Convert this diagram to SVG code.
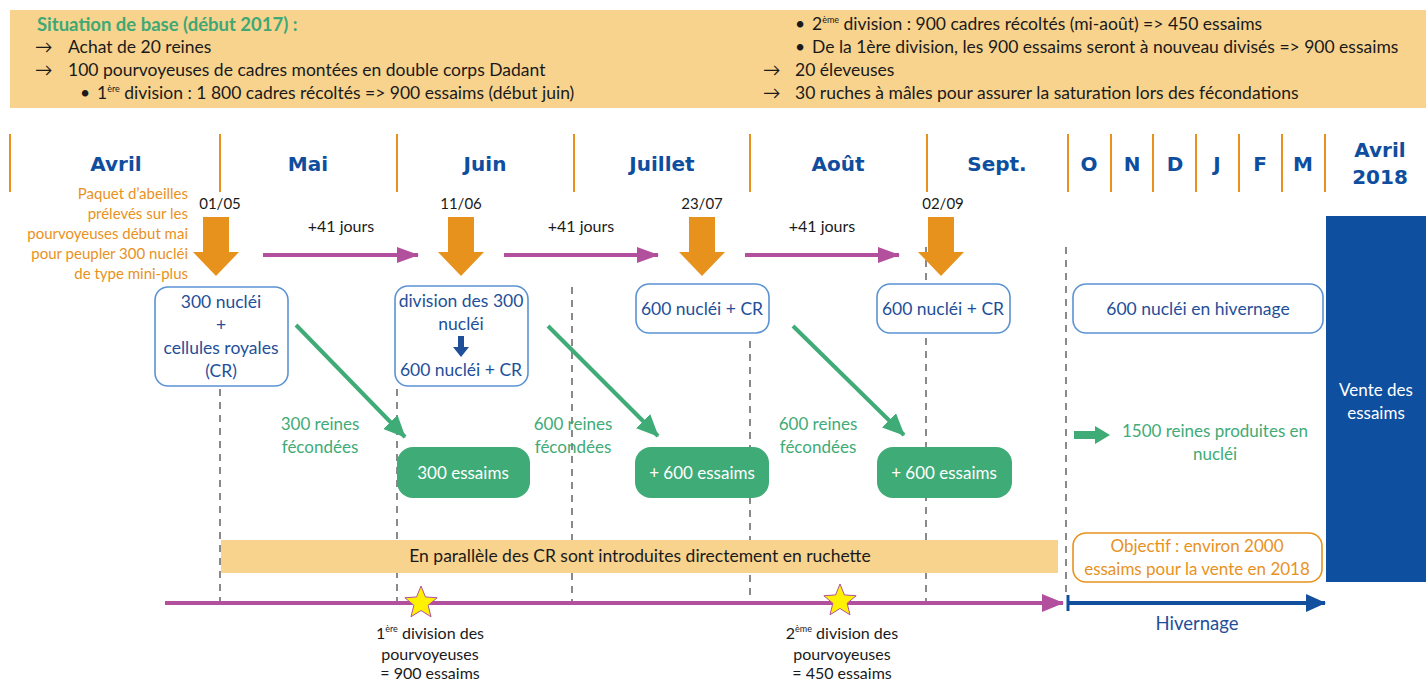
<svg xmlns="http://www.w3.org/2000/svg" width="1426" height="684" viewBox="0 0 1426 684">
<defs>
<style>
text{font-family:Lato,"Open Sans","DejaVu Sans",sans-serif;}
.hd{font-size:17.5px;fill:#1a1a1a;}
.hdg{font-size:18.5px;fill:#3fa874;font-weight:bold;}
.mo{font-family:"DejaVu Sans",sans-serif;font-weight:bold;font-size:20px;fill:#0f4e9e;text-anchor:middle;}
.or{font-size:15px;fill:#e8921e;text-anchor:end;}
.dt{font-size:15px;fill:#1a1a1a;text-anchor:middle;}
.pl{font-size:16px;fill:#1a1a1a;text-anchor:middle;}
.bx{fill:#fff;stroke:#5b93d3;stroke-width:1.6;}
.bt{font-size:17.5px;fill:#1f4f99;text-anchor:middle;}
.gb{fill:#3fab76;}
.gbt{font-size:17px;fill:#fff;text-anchor:middle;}
.gt{font-size:17px;fill:#3fab76;text-anchor:middle;}
.dash{stroke:#8a8a8a;stroke-width:2;stroke-dasharray:7,6;fill:none;}
.mline{stroke:#e8921e;stroke-width:2;}
.oa{fill:#e8921e;}
.pa{stroke:#b3509d;stroke-width:4;fill:none;}
.ga{stroke:#3fab76;stroke-width:4;fill:none;}
.bl{font-size:16px;fill:#1a1a1a;text-anchor:middle;}
.sup{font-size:9px;}
</style>
<marker id="mp" markerUnits="userSpaceOnUse" markerWidth="22" markerHeight="16" refX="21" refY="8" orient="auto"><path d="M0,0 L22,8 L0,16 Z" fill="#b3509d"/></marker>
<marker id="mg" markerUnits="userSpaceOnUse" markerWidth="22" markerHeight="20" refX="21" refY="10" orient="auto"><path d="M0,0 L22,10 L0,20 Z" fill="#3fab76"/></marker>
<marker id="mp2" markerUnits="userSpaceOnUse" markerWidth="22" markerHeight="18" refX="21" refY="9" orient="auto"><path d="M0,0 L22,9 L0,18 Z" fill="#b3509d"/></marker>
<marker id="mb" markerUnits="userSpaceOnUse" markerWidth="20" markerHeight="18" refX="19" refY="9" orient="auto"><path d="M0,0 L20,9 L0,18 Z" fill="#124f9e"/></marker>
<path id="star" d="M0,-17 L4.41,-6.07 L16.17,-5.25 L7.13,2.32 L9.99,13.75 L0,7.5 L-9.99,13.75 L-7.13,2.32 L-16.17,-5.25 L-4.41,-6.07 Z" fill="#fff200" stroke="#b3509d" stroke-width="1"/>
<path id="oarrow" d="M-13,0 L13,0 L13,35 L23,35 L0,59 L-23,35 L-13,35 Z" class="oa"/>
</defs>
<rect width="1426" height="684" fill="#fff"/>

<g id="header">
<rect x="10" y="10" width="1416" height="98" fill="#f7d38e"/>
<text x="37" y="31" class="hdg">Situation de base (début 2017) :</text>
<text x="35" y="53" class="hd">→</text><text x="68" y="53" class="hd">Achat de 20 reines</text>
<text x="35" y="76" class="hd">→</text><text x="68" y="76" class="hd">100 pourvoyeuses de cadres montées en double corps Dadant</text>
<text x="80" y="99" class="hd">•</text><text x="97" y="99" class="hd">1<tspan class="sup" dy="-7">ère</tspan><tspan dy="7"> division : 1 800 cadres récoltés =&gt; 900 essaims (début juin)</tspan></text>
<text x="795" y="30" class="hd">•</text><text x="812" y="30" class="hd">2<tspan class="sup" dy="-7">ème</tspan><tspan dy="7"> division : 900 cadres récoltés (mi-août) =&gt; 450 essaims</tspan></text>
<text x="795" y="53" class="hd">•</text><text x="812" y="53" class="hd">De la 1ère division, les 900 essaims seront à nouveau divisés =&gt; 900 essaims</text>
<text x="763" y="76" class="hd">→</text><text x="795" y="76" class="hd">20 éleveuses</text>
<text x="763" y="99" class="hd">→</text><text x="795" y="99" class="hd">30 ruches à mâles pour assurer la saturation lors des fécondations</text>
</g>

<g id="months">
<line class="mline" x1="10" y1="134" x2="10" y2="192"/>
<line class="mline" x1="220" y1="134" x2="220" y2="192"/>
<line class="mline" x1="397" y1="134" x2="397" y2="192"/>
<line class="mline" x1="574" y1="134" x2="574" y2="192"/>
<line class="mline" x1="750" y1="134" x2="750" y2="192"/>
<line class="mline" x1="927" y1="134" x2="927" y2="192"/>
<line class="mline" x1="1068" y1="134" x2="1068" y2="192"/>
<line class="mline" x1="1111" y1="134" x2="1111" y2="192"/>
<line class="mline" x1="1153" y1="134" x2="1153" y2="192"/>
<line class="mline" x1="1196" y1="134" x2="1196" y2="192"/>
<line class="mline" x1="1239" y1="134" x2="1239" y2="192"/>
<line class="mline" x1="1282" y1="134" x2="1282" y2="192"/>
<line class="mline" x1="1325" y1="134" x2="1325" y2="192"/>
<text class="mo" x="116" y="171">Avril</text>
<text class="mo" x="308" y="171">Mai</text>
<text class="mo" x="485" y="171">Juin</text>
<text class="mo" x="662" y="171">Juillet</text>
<text class="mo" x="838" y="171">Août</text>
<text class="mo" x="997" y="171">Sept.</text>
<text class="mo" x="1089" y="171">O</text>
<text class="mo" x="1132" y="171">N</text>
<text class="mo" x="1175" y="171">D</text>
<text class="mo" x="1217" y="171">J</text>
<text class="mo" x="1260" y="171">F</text>
<text class="mo" x="1303" y="171">M</text>
<text class="mo" x="1380" y="157">Avril</text>
<text class="mo" x="1380" y="184">2018</text>
</g>

<g id="intro-text">
<text class="or" x="188" y="199">Paquet d’abeilles</text>
<text class="or" x="188" y="219">prélevés sur les</text>
<text class="or" x="188" y="239">pourvoyeuses début mai</text>
<text class="or" x="188" y="259">pour peupler 300 nucléi</text>
<text class="or" x="188" y="279">de type mini-plus</text>
</g>

<g id="dates">
<text class="dt" x="220" y="209">01/05</text>
<text class="dt" x="461" y="209">11/06</text>
<text class="dt" x="702" y="209">23/07</text>
<text class="dt" x="943" y="209">02/09</text>
<text class="pl" x="341" y="232">+41 jours</text>
<text class="pl" x="581" y="232">+41 jours</text>
<text class="pl" x="822" y="232">+41 jours</text>
</g>

<g id="guides">
<line class="dash" x1="220" y1="389" x2="220" y2="603"/>
<line class="dash" x1="397" y1="389" x2="397" y2="603"/>
<line class="dash" x1="572" y1="287" x2="572" y2="603"/>
<line class="dash" x1="750" y1="341" x2="750" y2="603"/>
<line class="dash" x1="926" y1="247" x2="926" y2="603"/>
<line class="dash" x1="1066" y1="247" x2="1066" y2="595"/>
</g>

<g id="connectors">
<use href="#oarrow" x="216" y="217"/>
<use href="#oarrow" x="461" y="217"/>
<use href="#oarrow" x="702" y="217"/>
<use href="#oarrow" x="941" y="217"/>
<line class="pa" x1="263" y1="255" x2="418" y2="255" marker-end="url(#mp)"/>
<line class="pa" x1="504" y1="255" x2="658" y2="255" marker-end="url(#mp)"/>
<line class="pa" x1="745" y1="255" x2="899" y2="255" marker-end="url(#mp)"/>
<line class="ga" x1="296" y1="325" x2="405" y2="437" marker-end="url(#mg)"/>
<line class="ga" x1="548" y1="326" x2="658" y2="436" marker-end="url(#mg)"/>
<line class="ga" x1="793" y1="326" x2="904" y2="435" marker-end="url(#mg)"/>
<path d="M1074,431 L1095,431 L1095,426 L1110,435 L1095,444 L1095,439 L1074,439 Z" fill="#3fab76"/>
</g>

<g id="n-300nuclei">
<rect class="bx" x="155" y="287" width="133" height="99" rx="13"/>
<text class="bt" x="221" y="308">300 nucléi</text>
<text class="bt" x="221" y="331">+</text>
<text class="bt" x="221" y="354">cellules royales</text>
<text class="bt" x="221" y="377">(CR)</text>
</g>
<g id="n-division">
<rect class="bx" x="395" y="286" width="133" height="100" rx="13"/>
<text class="bt" x="461" y="307">division des 300</text>
<text class="bt" x="461" y="330">nucléi</text>
<path d="M458,336 L464,336 L464,347 L469,347 L461,357 L453,347 L458,347 Z" fill="#1f4f99"/>
<text class="bt" x="461" y="376">600 nucléi + CR</text>
</g>
<g id="n-600a">
<rect class="bx" x="636" y="284" width="133" height="49" rx="13"/>
<text class="bt" x="702" y="315">600 nucléi + CR</text>
</g>
<g id="n-600b">
<rect class="bx" x="877" y="284" width="133" height="49" rx="13"/>
<text class="bt" x="943" y="315">600 nucléi + CR</text>
</g>
<g id="n-hivernage">
<rect class="bx" x="1073" y="284" width="250" height="49" rx="13"/>
<text class="bt" x="1198" y="315">600 nucléi en hivernage</text>
</g>

<g id="labels-reines">
<text class="gt" x="320" y="430">300 reines</text>
<text class="gt" x="320" y="453">fécondées</text>
<text class="gt" x="573" y="430">600 reines</text>
<text class="gt" x="573" y="453">fécondées</text>
<text class="gt" x="818" y="430">600 reines</text>
<text class="gt" x="818" y="453">fécondées</text>
<text class="gt" x="1215" y="437">1500 reines produites en</text>
<text class="gt" x="1215" y="460">nucléi</text>
</g>

<g id="n-300essaims">
<rect class="gb" x="397" y="447" width="133" height="51" rx="16"/>
<text class="gbt" x="463" y="479">300 essaims</text>
</g>
<g id="n-600essaims-a">
<rect class="gb" x="635" y="447" width="134" height="51" rx="16"/>
<text class="gbt" x="702" y="479">+ 600 essaims</text>
</g>
<g id="n-600essaims-b">
<rect class="gb" x="877" y="447" width="135" height="51" rx="16"/>
<text class="gbt" x="944" y="479">+ 600 essaims</text>
</g>

<g id="n-vente">
<rect x="1326" y="216" width="100" height="366" fill="#0e4fa0"/>
<text x="1376" y="396" font-size="17" fill="#fff" text-anchor="middle">Vente des</text>
<text x="1376" y="419" font-size="17" fill="#fff" text-anchor="middle">essaims</text>
</g>

<g id="n-parallele">
<rect x="221" y="540" width="837" height="33" fill="#f7d38e"/>
<text x="640" y="562" font-size="17.5" fill="#1a1a1a" text-anchor="middle">En parallèle des CR sont introduites directement en ruchette</text>
</g>

<g id="n-objectif">
<rect x="1073" y="533" width="249" height="49" rx="13" fill="#fff" stroke="#e8921e" stroke-width="1.6"/>
<text x="1197" y="552" font-size="17" fill="#e8921e" text-anchor="middle">Objectif : environ 2000</text>
<text x="1197" y="575" font-size="17" fill="#e8921e" text-anchor="middle">essaims pour la vente en 2018</text>
</g>

<g id="timeline">
<line x1="165" y1="603" x2="1063" y2="603" stroke="#b3509d" stroke-width="4" marker-end="url(#mp2)"/>
<line x1="1068" y1="603" x2="1325" y2="603" stroke="#124f9e" stroke-width="4" marker-end="url(#mb)"/>
<line x1="1068" y1="595" x2="1068" y2="611" stroke="#124f9e" stroke-width="3"/>
<use href="#star" x="421" y="603"/>
<use href="#star" x="840" y="601"/>
<text x="1197" y="630" font-size="18.5" fill="#1f4f99" text-anchor="middle">Hivernage</text>
</g>

<g id="milestones">
<text class="bl" x="430" y="639">1<tspan class="sup" dy="-7">ère</tspan><tspan dy="7"> division des</tspan></text>
<text class="bl" x="430" y="660">pourvoyeuses</text>
<text class="bl" x="430" y="679">= 900 essaims</text>
<text class="bl" x="842" y="639">2<tspan class="sup" dy="-7">ème</tspan><tspan dy="7"> division des</tspan></text>
<text class="bl" x="842" y="660">pourvoyeuses</text>
<text class="bl" x="842" y="679">= 450 essaims</text>
</g>
</svg>
